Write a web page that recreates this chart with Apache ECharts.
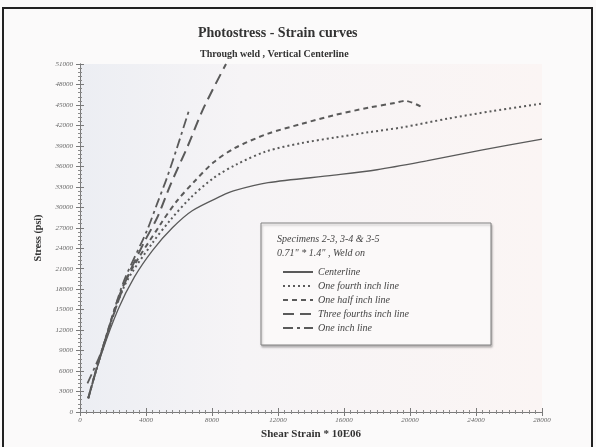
<!DOCTYPE html>
<html>
<head>
<meta charset="utf-8">
<script src="https://cdn.jsdelivr.net/npm/echarts@6/dist/echarts.min.js"></script>
<style>html,body{margin:0;padding:0;background:#fbfafa;}#c{width:596px;height:447px;}</style>
</head>
<body>
<div id="c"></div>
<script>
// ---- data ----
var seriesNames = ['Centerline', 'One fourth inch line', 'One half inch line', 'Three fourths inch line', 'One inch line'];
var centerline = [[500,2000],[1300,8500],[2300,15000],[3300,19800],[4400,23700],[5600,27000],[6800,29500],[8600,31700],[9300,32400],[11400,33600],[15400,34700],[18000,35500],[21000,36800],[24400,38400],[28000,40000]];
var oneFourth = [[500,2000],[1300,8700],[2700,18500],[4400,24800],[5500,28200],[6700,31400],[8100,34300],[9500,36300],[11300,38200],[13400,39400],[15400,40200],[17500,41000],[19500,41700],[22300,43000],[25000,44100],[28000,45200]];
var oneHalf = [[500,2000],[1300,8800],[2700,18900],[4900,27600],[5900,31000],[6900,33700],[8100,36600],[9400,38700],[11400,40800],[13400,42200],[15400,43500],[17500,44600],[19100,45300],[19700,45600],[20700,44700]];
var threeFourths = [[500,2000],[1300,8800],[2700,18800],[3850,24700],[4700,28600],[5500,33400],[6500,38800],[7500,44600],[8850,51000]];
var oneInch = [[450,4200],[1300,8900],[2600,18800],[4060,26600],[4670,30500],[5280,34400],[5890,38800],[6590,44100]];
var xTicks = {min: 0, max: 28000, interval: 4000};
var yTicks = {min: 0, max: 51000, interval: 3000};

var serif = 'Liberation Serif';
var chart = echarts.init(document.getElementById('c'));
var lineCol = '#5a5a5a';
function axisCommon(show) {
  return {
    axisLine: {show: true, lineStyle: {color: '#7a7a7a', width: 1}},
    axisTick: {show: true, inside: true, length: 4, lineStyle: {color: '#7a7a7a'}},
    minorTick: {show: true, splitNumber: 10, length: 2, lineStyle: {color: '#8a8a8a'}},
    splitLine: {show: false},
    axisLabel: {show: show, fontFamily: serif, fontStyle: 'italic', fontSize: 7, color: '#666',
      formatter: function (v) { return String(v); }}
  };
}
var xa = Object.assign({type: 'value', position: 'bottom', min: xTicks.min, max: xTicks.max, interval: xTicks.interval,
  name: 'Shear Strain * 10E06', nameLocation: 'middle', nameGap: 14,
  nameTextStyle: {fontFamily: serif, fontWeight: 'bold', fontSize: 11, color: '#333'}}, axisCommon(true));
xa.axisLabel.margin = 5;
var xaTop = Object.assign({type: 'value', position: 'top', min: xTicks.min, max: xTicks.max, interval: xTicks.interval}, axisCommon(false));
var ya = Object.assign({type: 'value', position: 'left', min: yTicks.min, max: yTicks.max, interval: yTicks.interval,
  name: 'Stress (psi)', nameLocation: 'middle', nameGap: 37,
  nameTextStyle: {fontFamily: serif, fontWeight: 'bold', fontSize: 10, color: '#333'}}, axisCommon(true));
ya.axisLabel.margin = 7;
ya.minorTick.splitNumber = 5;
var yaRight = Object.assign({type: 'value', position: 'right', min: yTicks.min, max: yTicks.max, interval: yTicks.interval}, axisCommon(false));
yaRight.minorTick.splitNumber = 5;

var styles = [
  {type: 'solid', width: 1.3},
  {type: [2, 3], width: 2},
  {type: [5, 4], width: 2},
  {type: [11, 6], width: 2},
  {type: [10, 4, 3, 4], width: 1.8}
];
var datasets = [centerline, oneFourth, oneHalf, threeFourths, oneInch];
var series = datasets.map(function (d, i) {
  return {
    name: seriesNames[i], type: 'line', data: d, smooth: 0.3, symbol: 'none', xAxisIndex: 0, yAxisIndex: 0,
    lineStyle: {color: lineCol, width: styles[i].width, type: styles[i].type},
    itemStyle: {color: lineCol}
  };
});

chart.setOption({
  backgroundColor: '#fbfafa',
  animation: false,
  title: [
    {text: 'Photostress - Strain curves', left: 193, top: 21, textStyle: {fontFamily: serif, fontWeight: 'bold', fontSize: 14, color: '#333'}},
    {text: 'Through weld , Vertical Centerline', left: 195, top: 44, textStyle: {fontFamily: serif, fontWeight: 'bold', fontSize: 10, color: '#333'}}
  ],
  grid: {left: 80, right: 54, top: 64, bottom: 35, show: true, borderWidth: 0,
    backgroundColor: {type: 'linear', x: 0, y: 0, x2: 1, y2: 0, colorStops: [
      {offset: 0, color: '#eceef3'}, {offset: 0.35, color: '#f6f4f6'}, {offset: 1, color: '#fbf5f4'}]}},
  xAxis: [xa, xaTop],
  yAxis: [ya, yaRight],
  legend: {
    orient: 'vertical', left: 277, top: 262, itemWidth: 30, itemHeight: 10, itemGap: 4,
    data: seriesNames,
    itemStyle: {opacity: 0},
    textStyle: {fontFamily: serif, fontStyle: 'italic', fontSize: 10, color: '#444'}
  },
  graphic: [
    {type: 'rect', shape: {x: 3, y: 8, width: 589, height: 460}, style: {fill: 'none', stroke: '#222', lineWidth: 2}, silent: true},
    {type: 'rect', shape: {x: 261, y: 223, width: 230, height: 122}, style: {fill: '#fbf9f9', stroke: '#808080', lineWidth: 1, shadowColor: 'rgba(0,0,0,0.25)', shadowOffsetX: 1, shadowOffsetY: 2, shadowBlur: 2}, z: 1},
    {type: 'text', left: 277, top: 234, style: {text: 'Specimens 2-3, 3-4 & 3-5', font: 'italic 10px "Liberation Serif"', fill: '#444'}, z: 5},
    {type: 'text', left: 277, top: 248, style: {text: '0.71" * 1.4" , Weld on', font: 'italic 10px "Liberation Serif"', fill: '#444'}, z: 5}
  ],
  series: series
});
</script>
</body>
</html>
